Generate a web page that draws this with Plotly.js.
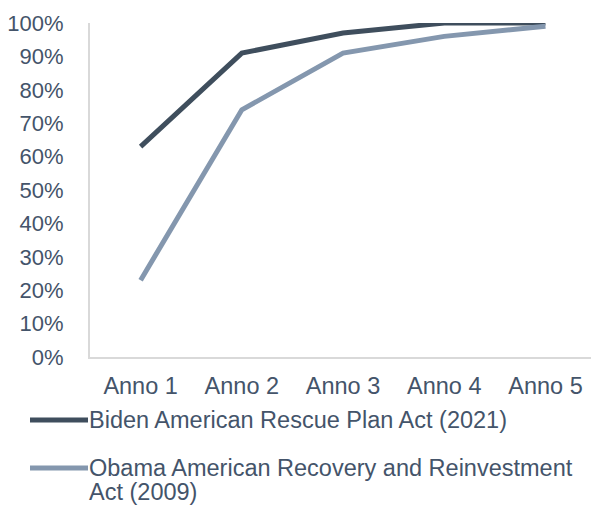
<!DOCTYPE html>
<html>
<head>
<meta charset="utf-8">
<script src="https://cdn.plot.ly/plotly-3.0.1.min.js"></script>
<style>html,body{margin:0;padding:0;background:#fff;}#chart{width:591px;height:508px;}</style>
</head>
<body>
<div id="chart"></div>
<script>
const categories = ["Anno 1", "Anno 2", "Anno 3", "Anno 4", "Anno 5"];
const bidenValues = [0.63, 0.91, 0.97, 1.00, 1.00];
const obamaValues = [0.23, 0.74, 0.91, 0.96, 0.99];
const seriesNames = ["Biden American Rescue Plan Act (2021)", "Obama American Recovery and Reinvestment Act (2009)"];
const obamaLabelLines = ["Obama American Recovery and Reinvestment", "Act (2009)"];
const yTickValues = [0, 0.1, 0.2, 0.3, 0.4, 0.5, 0.6, 0.7, 0.8, 0.9, 1.0];
const yTickLabels = ["0%", "10%", "20%", "30%", "40%", "50%", "60%", "70%", "80%", "90%", "100%"];

const textColor = "#44546A";
const bidenColor = "#3F4E5D";
const obamaColor = "#8497AE";
const fontFamily = "Liberation Sans, Arial, sans-serif";

const traces = [
  {x: categories, y: bidenValues, name: seriesNames[0], type: "scatter", mode: "lines",
   line: {color: bidenColor, width: 5}, cliponaxis: false, showlegend: false},
  {x: categories, y: obamaValues, name: seriesNames[1], type: "scatter", mode: "lines",
   line: {color: obamaColor, width: 5}, cliponaxis: false, showlegend: false}
];

// plot area: x 90..591, y 23..357 (pixels)
const L = 90, R = 591, T = 23, B = 357;
const px = v => (v - L) / (R - L);
const py = v => (B - v) / (B - T);

const legendFont = {family: fontFamily, size: 23.5, color: textColor};

const layout = {
  width: 591, height: 508,
  margin: {l: L, r: 591 - R, t: T, b: 508 - B, pad: 0},
  paper_bgcolor: "#fff", plot_bgcolor: "#fff",
  font: {family: fontFamily, size: 23, color: textColor},
  showlegend: false,
  xaxis: {
    type: "category", range: [-0.5, 4.45],
    showgrid: false, zeroline: false,
    showline: true, linecolor: "#D9D9D9", linewidth: 2,
    ticks: "", ticklabelstandoff: 7,
    tickfont: {family: fontFamily, size: 23.5, color: textColor},
    fixedrange: true
  },
  yaxis: {
    range: [0, 1], tickvals: yTickValues, ticktext: yTickLabels,
    showgrid: false, zeroline: false,
    showline: true, linecolor: "#D9D9D9", linewidth: 2,
    ticks: "", ticklabelstandoff: 20,
    tickfont: {family: fontFamily, size: 22, color: textColor},
    fixedrange: true
  },
  shapes: [
    {type: "line", xref: "paper", yref: "paper", x0: px(30), x1: px(88), y0: py(420), y1: py(420),
     line: {color: bidenColor, width: 5}},
    {type: "line", xref: "paper", yref: "paper", x0: px(30), x1: px(88), y0: py(468), y1: py(468),
     line: {color: obamaColor, width: 5}}
  ],
  annotations: [
    {xref: "paper", yref: "paper", x: px(88), y: py(420), xanchor: "left", yanchor: "middle",
     text: seriesNames[0], showarrow: false, align: "left", font: legendFont, borderpad: 0},
    {xref: "paper", yref: "paper", x: px(88), y: py(468), xanchor: "left", yanchor: "middle",
     text: obamaLabelLines[0], showarrow: false, align: "left", font: legendFont, borderpad: 0},
    {xref: "paper", yref: "paper", x: px(88), y: py(492), xanchor: "left", yanchor: "middle",
     text: obamaLabelLines[1], showarrow: false, align: "left", font: legendFont, borderpad: 0}
  ]
};

Plotly.newPlot("chart", traces, layout, {displayModeBar: false, staticPlot: true});
</script>
</body>
</html>
